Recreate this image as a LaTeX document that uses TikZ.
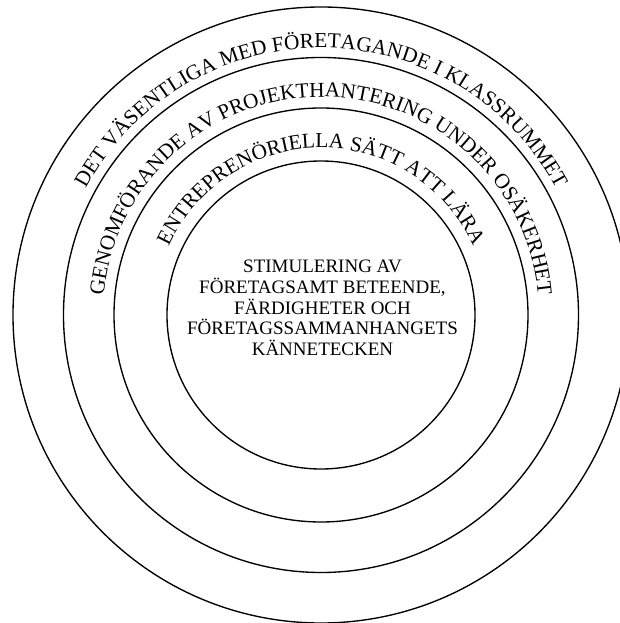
\documentclass[tikz,border=0pt]{standalone}
\usepackage{fontspec}
\setmainfont{Liberation Serif}
\usetikzlibrary{decorations.text}
\newcommand\ringsize{\fontsize{21.3}{25}\selectfont}
\begin{document}
\begin{tikzpicture}[x=1pt,y=1pt,
  ring/.style={circle, draw, line width=1.35pt, inner sep=0pt, outer sep=0pt},
  ringtext/.style={decorate, decoration={text along path, text align=center, text={|\ringsize|#1}}},
  coretext/.style={align=center, font=\fontsize{19}{20.8}\selectfont}]
\useasboundingbox (-321pt,-308pt) rectangle (299pt,315pt);
\clip (-321pt,-308pt) rectangle (299pt,315pt);
\node[ring, minimum size=616pt] (outer) at (0,0) {};
\node[ring, minimum size=515pt] (second) at (0,0) {};
\node[ring, minimum size=414pt] (third) at (0,0) {};
\node[ring, minimum size=308pt] (inner) at (0,0) {};
\path[ringtext={DET VÄSENTLIGA MED FÖRETAGANDE I KLASSRUMMET}] (175:267pt) arc[start angle=175, end angle=5, radius=267pt];
\path[ringtext={GENOMFÖRANDE AV PROJEKTHANTERING UNDER OSÄKERHET}] (178:218pt) arc[start angle=178, end angle=2, radius=218pt];
\path[ringtext={ENTREPRENÖRIELLA SÄTT ATT LÄRA}] (178:167pt) arc[start angle=178, end angle=2, radius=167pt];
\node[coretext] (core) at (1.5pt,7pt) {STIMULERING AV\\FÖRETAGSAMT BETEENDE,\\FÄRDIGHETER OCH\\FÖRETAGSSAMMANHANGETS\\KÄNNETECKEN};
\end{tikzpicture}
\end{document}
